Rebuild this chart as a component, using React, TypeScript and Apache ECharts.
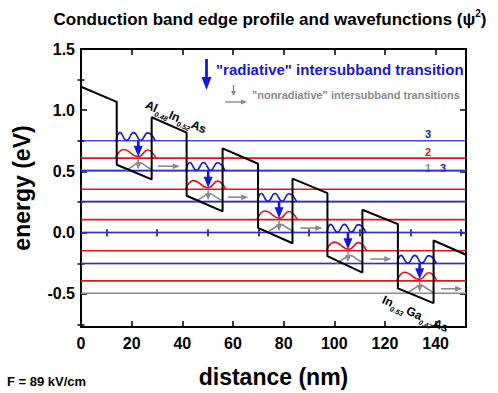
import React, { useEffect, useRef } from "react";
import * as echarts from "echarts";

// ---------- data ----------
const xMajorTicks = [0, 20, 40, 60, 80, 100, 120, 140];
const xMinorTicks = [10, 30, 50, 70, 90, 110, 130, 150];
const yMajorTicks = [-0.5, 0, 0.5, 1.0, 1.5];
const yMinorTicks = [-0.75, -0.25, 0.25, 0.75, 1.25];

// conduction band edge profile (nm, eV)
const bandX = [0, 14.1, 14.1, 27.9, 27.9, 41.7, 41.7, 55.9, 55.9, 69.9, 69.9, 83.5, 83.5, 97.3, 97.3, 111.1, 111.1, 125.1, 125.1, 139.2, 139.2, 152];
const bandE = [1.192, 1.068, 0.555, 0.435, 0.943, 0.817, 0.302, 0.174, 0.689, 0.563, 0.04, -0.086, 0.441, 0.323, -0.192, -0.326, 0.187, 0.07, -0.454, -0.575, -0.064, -0.18];

// wells and subband energies (eV)
const wellStart = [14.1, 41.7, 69.9, 97.3, 125.1];
const level3 = [0.751, 0.507, 0.254, 0.002, -0.251];
const level2 = [0.609, 0.355, 0.107, -0.147, -0.393];
const level1 = [0.507, 0.254, 0.002, -0.251, -0.494];

// wavefunction shapes (offset from well start in nm, height above level in eV)
const wave3Dx = [-0.2, 1.3, 3.9, 6.7, 9.5, 12.2, 15.2];
const wave3Dh = [0, 0.066, 0.003, 0.066, 0.003, 0.064, 0];
const wave2Dx = [-0.4, 2.7, 8.5, 12.2, 15.4];
const wave2Dh = [0, 0.07, 0.012, 0.066, 0];
const wave1Dx = [3.6, 6.3, 8.9, 11.6, 14.3];
const wave1Dh = [0, 0.036, 0.066, 0.036, 0];

// transitions
const transitionX = [22.6, 50.2, 78.2, 105.4, 133.7];
const hopStartX = [30.4, 58.0, 86.6, 114.2, 142.2];
const hopEndX = [39.0, 66.0, 95.3, 122.5, 150.5];

const X_MAX = 152;
const Y_MIN = -0.77;
const Y_MAX = 1.5;

const FONT = "'Liberation Sans', Arial, Helvetica, sans-serif";
const BLUE = "#1616e0";
const RED = "#e8141c";
const GRAY = "#8a8a8a";

function arrowShapes(p0: number[], p1: number[], color: string, lw: number, headW: number, headL: number) {
  const dx = p1[0] - p0[0];
  const dy = p1[1] - p0[1];
  const len = Math.hypot(dx, dy) || 1;
  const ux = dx / len, uy = dy / len;
  const bx = p1[0] - ux * headL, by = p1[1] - uy * headL;
  const nx = -uy, ny = ux;
  return [
    { type: "line", shape: { x1: p0[0], y1: p0[1], x2: bx + ux, y2: by + uy }, style: { stroke: color, lineWidth: lw } },
    {
      type: "polygon",
      shape: { points: [[p1[0], p1[1]], [bx + (nx * headW) / 2, by + (ny * headW) / 2], [bx - (nx * headW) / 2, by - (ny * headW) / 2]] },
      style: { fill: color },
    },
  ];
}

function arrowSeries(name: string, items: number[][], color: string, lw: number, headW: number, headL: number, z: number) {
  return {
    type: "custom",
    name,
    z,
    silent: true,
    data: items,
    renderItem: (_p: any, api: any) => {
      const p0 = api.coord([api.value(0), api.value(1)]);
      const p1 = api.coord([api.value(2), api.value(3)]);
      return { type: "group", children: arrowShapes(p0, p1, color, lw, headW, headL) };
    },
  };
}

function hLine(e: number, color: string, opacity: number, z: number) {
  return {
    type: "line",
    data: [[0, e], [X_MAX, e]],
    showSymbol: false,
    symbol: "none",
    silent: true,
    z,
    lineStyle: { color, width: 1.6, opacity },
  };
}

function waveLine(x0: number, e: number, dx: number[], dh: number[], color: string, z: number) {
  return {
    type: "line",
    data: dx.map((d, i) => [x0 + d, e + dh[i]]),
    smooth: 0.5,
    symbol: "none",
    silent: true,
    z,
    lineStyle: { color, width: 1.6 },
  };
}

const axisLine = { show: true, onZero: false, lineStyle: { color: "#000", width: 2 } };
const tickStyle = { color: "#000", width: 1.5 };

function xAx(position: string, major: boolean, extra: any = {}) {
  return {
    type: "value",
    min: 0,
    max: X_MAX,
    position,
    splitLine: { show: false },
    axisLine: major ? axisLine : { show: false },
    axisTick: { show: true, inside: true, length: major ? 6 : 3.5, customValues: major ? xMajorTicks : xMinorTicks, lineStyle: tickStyle },
    axisLabel: { show: false },
    ...extra,
  };
}
function yAx(position: string, major: boolean, extra: any = {}) {
  return {
    type: "value",
    min: Y_MIN,
    max: Y_MAX,
    position,
    splitLine: { show: false },
    axisLine: major ? axisLine : { show: false },
    axisTick: { show: true, inside: true, length: major ? 6 : 3.5, customValues: major ? yMajorTicks : yMinorTicks, lineStyle: tickStyle },
    axisLabel: { show: false },
    ...extra,
  };
}

export default function App() {
  const ref = useRef<HTMLDivElement>(null);
  useEffect(() => {
    if (!ref.current) return;
    const chart = echarts.init(ref.current, null, { renderer: "svg" });

    const series: any[] = [];
    level1.forEach((e) => series.push(hLine(e, GRAY, 1, 1)));
    level2.forEach((e) => series.push(hLine(e, RED, 1, 2)));
    level3.forEach((e) => series.push(hLine(e, BLUE, 0.78, 3)));
    wellStart.forEach((x0, i) => {
      series.push(waveLine(x0, level3[i], wave3Dx, wave3Dh, BLUE, 4));
      series.push(waveLine(x0, level2[i], wave2Dx, wave2Dh, RED, 4));
      series.push(waveLine(x0, level1[i], wave1Dx, wave1Dh, GRAY, 4));
    });
    series.push({
      type: "line",
      data: bandX.map((x, i) => [x, bandE[i]]),
      symbol: "none",
      silent: true,
      z: 5,
      lineStyle: { color: "#000", width: 2 },
    });
    series.push(arrowSeries("rad", transitionX.map((x, i) => [x, level3[i], x, level2[i] + 0.012]), BLUE, 2.6, 9, 11, 7));
    series.push(arrowSeries("nonrad", transitionX.map((x, i) => [x, level2[i] - 0.01, x, level1[i] + 0.01]), GRAY, 1.6, 6, 7, 6));
    series.push(arrowSeries("hop", hopStartX.map((x, i) => [x, level1[i] + 0.036, hopEndX[i], level1[i] + 0.036]), GRAY, 1.6, 6, 7, 6));

    const legendArrows = [
      ...arrowShapes([206.5, 59], [206.5, 90], BLUE, 2.8, 10, 13),
      ...arrowShapes([233.5, 85], [233.5, 96], GRAY, 1.4, 5, 5),
      ...arrowShapes([225, 102], [247, 102], GRAY, 1.4, 5, 6),
    ];

    const subRich = {
      m: { fontSize: 12, fontWeight: "bold", fontFamily: FONT, lineHeight: 18, verticalAlign: "middle", fill: "#000" },
      s: { fontSize: 7, fontWeight: "bold", fontStyle: "italic", fontFamily: FONT, lineHeight: 7, verticalAlign: "bottom", fill: "#000" },
      g: { fontSize: 12, fontWeight: "bold", fontFamily: FONT, lineHeight: 18, verticalAlign: "middle", fill: "#000", padding: [0, 0, 0, 2] },
    };

    const option: any = {
      animation: false,
      grid: { left: 81, right: 32, top: 49, bottom: 61, containLabel: false },
      xAxis: [
        xAx("bottom", true, {
          axisLabel: { show: true, customValues: xMajorTicks, color: "#000", fontSize: 16, fontWeight: "bold", fontFamily: FONT, margin: 8 },
          name: "distance (nm)",
          nameLocation: "middle",
          nameGap: 38,
          nameTextStyle: { color: "#000", fontSize: 23, fontWeight: "bold", fontFamily: FONT },
        }),
        xAx("bottom", false),
        xAx("top", true),
        xAx("top", false),
      ],
      yAxis: [
        yAx("left", true, {
          axisLabel: {
            show: true,
            customValues: yMajorTicks,
            color: "#000",
            fontSize: 16,
            fontWeight: "bold",
            fontFamily: FONT,
            margin: 6,
            formatter: (v: number) => v.toFixed(1),
          },
          name: "energy (eV)",
          nameLocation: "middle",
          nameGap: 48,
          nameTextStyle: { color: "#000", fontSize: 23, fontWeight: "bold", fontFamily: FONT },
        }),
        yAx("left", false),
        yAx("right", true),
        yAx("right", false),
      ],
      series,
      graphic: [
        {
          type: "text",
          x: 270,
          y: 19,
          style: {
            text: "{t|Conduction band edge profile and wavefunctions (ψ}{p|2}{t|)}",
            align: "center",
            verticalAlign: "middle",
            rich: {
              t: { fontSize: 17, fontWeight: "bold", fontFamily: FONT, fill: "#000", lineHeight: 22, verticalAlign: "middle" },
              p: { fontSize: 10, fontWeight: "bold", fontFamily: FONT, fill: "#000", lineHeight: 10, verticalAlign: "top" },
            },
          },
        },
        {
          type: "text",
          x: 216,
          y: 69,
          style: { text: "\"radiative\" intersubband transition", fill: BLUE, fontSize: 15, fontWeight: "bold", fontFamily: FONT, verticalAlign: "middle" },
        },
        {
          type: "text",
          x: 252,
          y: 95,
          style: { text: "\"nonradiative\" intersubband transitions", fill: GRAY, fontSize: 11, fontWeight: "bold", fontFamily: FONT, verticalAlign: "middle" },
        },
        ...legendArrows,
        { type: "text", x: 428, y: 134, style: { text: "3", fill: BLUE, fontSize: 11, fontWeight: "bold", fontFamily: FONT, align: "center", verticalAlign: "middle" } },
        { type: "text", x: 428, y: 151.5, style: { text: "2", fill: RED, fontSize: 11, fontWeight: "bold", fontFamily: FONT, align: "center", verticalAlign: "middle" } },
        { type: "text", x: 428, y: 167.5, style: { text: "1", fill: GRAY, fontSize: 11, fontWeight: "bold", fontFamily: FONT, align: "center", verticalAlign: "middle" } },
        { type: "text", x: 443, y: 167.5, style: { text: "3", fill: BLUE, fontSize: 11, fontWeight: "bold", fontFamily: FONT, align: "center", verticalAlign: "middle" } },
        {
          type: "text",
          x: 146,
          y: 104,
          rotation: -0.41,
          style: { text: "{m|Al}{s|0.48}{m|In}{s|0.52}{m|As}", rich: subRich, verticalAlign: "middle" },
        },
        {
          type: "text",
          x: 383,
          y: 299,
          rotation: -0.43,
          style: { text: "{m|In}{s|0.53}{g|Ga}{s|0.47}{m|As}", rich: subRich, verticalAlign: "middle" },
        },
        {
          type: "text",
          x: 7,
          y: 381,
          style: { text: "F = 89 kV/cm", fill: "#000", fontSize: 13, fontWeight: "bold", fontFamily: FONT, verticalAlign: "middle" },
        },
      ],
    };
    chart.setOption(option);
    return () => chart.dispose();
  }, []);
  return <div ref={ref} style={{ position: "fixed", left: 0, top: 0, width: 498, height: 393, background: "#fff" }} />;
}
